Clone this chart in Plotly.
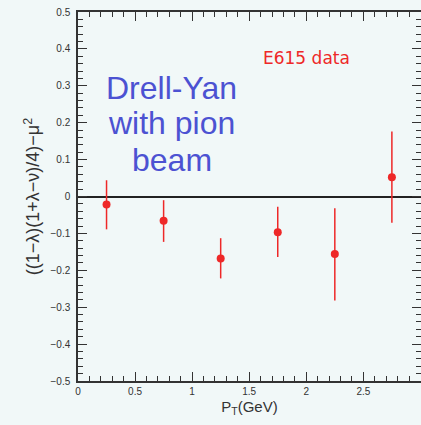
import plotly.graph_objects as go

pt = [0.25, 0.75, 1.25, 1.75, 2.25, 2.75]
val = [-0.022, -0.066, -0.168, -0.097, -0.156, 0.052]
err_up = [0.066, 0.056, 0.055, 0.069, 0.124, 0.124]
err_dn = [0.067, 0.057, 0.054, 0.067, 0.126, 0.123]

y_ticks = [0.5, 0.4, 0.3, 0.2, 0.1, 0, -0.1, -0.2, -0.3, -0.4, -0.5]
y_labels = ["0.5", "0.4", "0.3", "0.2", "0.1", "0", "\u22120.1", "\u22120.2", "\u22120.3", "\u22120.4", "\u22120.5"]
x_ticks = [0, 0.5, 1, 1.5, 2, 2.5, 3]
x_labels = ["0", "0.5", "1", "1.5", "2", "2.5", "3"]

bg = "rgb(241,248,248)"
red = "rgb(238,40,40)"
blue = "rgb(76,82,210)"
axc = "#333333"

fig = go.Figure()
fig.add_trace(go.Scatter(
    x=pt, y=val, mode="markers",
    marker=dict(color=red, size=8),
    error_y=dict(type="data", symmetric=False, array=err_up, arrayminus=err_dn,
                 color=red, thickness=1.5, width=0),
    showlegend=False,
))

fig.update_layout(
    width=421, height=425,
    margin=dict(l=78, r=0, t=12, b=44),
    paper_bgcolor=bg, plot_bgcolor=bg,
    font=dict(family="Liberation Sans, Arial, sans-serif", color=axc),
    xaxis=dict(
        range=[0, 3.005], tickvals=x_ticks, ticktext=x_labels,
        ticks="inside", ticklen=9, tickwidth=1, tickcolor=axc,
        minor=dict(dtick=0.1, ticks="inside", ticklen=5, tickcolor=axc, tickwidth=1),
        showline=True, linecolor=axc, linewidth=1.5, mirror="ticks",
        showgrid=False, zeroline=False,
        tickfont=dict(size=10, color=axc),
        title=dict(text="P<sub>T</sub>(GeV)", font=dict(size=15, color=axc), standoff=6),
        automargin=False,
    ),
    yaxis=dict(
        range=[-0.5, 0.5], tickvals=y_ticks, ticktext=y_labels,
        ticks="inside", ticklen=9, tickwidth=1, tickcolor=axc,
        minor=dict(dtick=0.02, ticks="inside", ticklen=5, tickcolor=axc, tickwidth=1),
        showline=True, linecolor=axc, linewidth=1.5, mirror="ticks",
        showgrid=False, zeroline=True, zerolinecolor="#222222", zerolinewidth=1.5,
        tickfont=dict(size=10, color=axc),
        ticklabelstandoff=4,
        title=dict(text="((1\u2212\u03bb)(1+\u03bb\u2212\u03bd)/4)\u2212\u03bc<sup>2</sup>",
                   font=dict(size=18, color=axc), standoff=6),
        automargin=False,
    ),
)

for txt, yv in [("Drell-Yan", 0.295), ("with pion", 0.198), ("beam", 0.1)]:
    fig.add_annotation(x=0.82, y=yv, xref="x", yref="y", text=txt, showarrow=False,
                       font=dict(size=32, color=blue, family="Liberation Sans, Arial, sans-serif"))

fig.add_annotation(x=1.6, y=0.374, xref="x", yref="y", text="E615 data", showarrow=False,
                   xanchor="left",
                   font=dict(size=17, color=red, family="DejaVu Sans, sans-serif"))

fig.write_html("out.html")
